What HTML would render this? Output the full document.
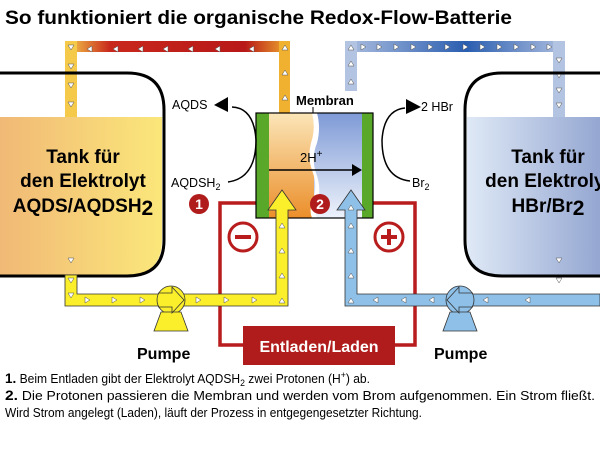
<!DOCTYPE html>
<html><head><meta charset="utf-8"><style>
html,body{margin:0;padding:0;background:#fff;width:600px;height:450px;overflow:hidden}
svg{display:block;font-family:"Liberation Sans",sans-serif}
</style></head><body>
<svg width="600" height="450" viewBox="0 0 600 450" xmlns="http://www.w3.org/2000/svg">
<defs>
<linearGradient id="tl" x1="0" x2="1"><stop offset="0" stop-color="#f0b676"/><stop offset="1" stop-color="#fbe77a"/></linearGradient>
<linearGradient id="tr" x1="0" x2="1"><stop offset="0" stop-color="#dfe9f6"/><stop offset="1" stop-color="#8fa2cf"/></linearGradient>
<linearGradient id="rp" x1="0" x2="1"><stop offset="0" stop-color="#f7d24c"/><stop offset="0.2" stop-color="#c8281c"/><stop offset="0.8" stop-color="#b81818"/><stop offset="1" stop-color="#f0b030"/></linearGradient>
<linearGradient id="bp" x1="0" x2="1"><stop offset="0" stop-color="#aebfe0"/><stop offset="0.55" stop-color="#2a5eb0"/><stop offset="1" stop-color="#aebfe0"/></linearGradient>
<linearGradient id="co" x1="0" x2="0" y1="0" y2="1"><stop offset="0" stop-color="#fbe6b8"/><stop offset="1" stop-color="#eb8e2a"/></linearGradient>
<linearGradient id="cb" x1="0" x2="0" y1="0" y2="1"><stop offset="0" stop-color="#7e9ad6"/><stop offset="1" stop-color="#eef3fb"/></linearGradient>
</defs>

<text x="5" y="24" font-size="19.5" font-weight="bold" textLength="507" lengthAdjust="spacingAndGlyphs">So funktioniert die organische Redox-Flow-Batterie</text>

<rect x="65" y="41" width="225" height="11" fill="url(#rp)"/>
<rect x="65" y="41" width="12" height="76" fill="#f5c94a"/>
<rect x="279" y="41" width="11" height="72" fill="#f0b030"/>
<rect x="345" y="41" width="220" height="11" fill="url(#bp)"/>
<rect x="345" y="41" width="12" height="50" fill="#b3c4e2"/>
<rect x="553" y="41" width="12" height="76" fill="#b3c4e2"/>
<g fill="#fff" stroke="#555" stroke-width="0.5">
<path d="M68 45h6l-3 5z M68 64h6l-3 5z M68 83h6l-3 5z M68 102h6l-3 5z"/>
<path d="M92 46l-5 3 5 3z M118 46l-5 3 5 3z M143 46l-5 3 5 3z M168 46l-5 3 5 3z M193 46l-5 3 5 3z M220 46l-5 3 5 3z M254 46l-5 3 5 3z"/>
<path d="M282 50h6l-3 -5z M282 75h6l-3 -5z M282 100h6l-3 -5z"/>
<path d="M348 50h6l-3 -5z M348 66h6l-3 -5z M348 84h6l-3 -5z"/>
<path d="M361 44l5 3 -5 3z M377 44l5 3 -5 3z M394 44l5 3 -5 3z M411 44l5 3 -5 3z M428 44l5 3 -5 3z M445 44l5 3 -5 3z M463 44l5 3 -5 3z M480 44l5 3 -5 3z M497 44l5 3 -5 3z M514 44l5 3 -5 3z M531 44l5 3 -5 3z M547 44l5 3 -5 3z"/>
<path d="M556 58h6l-3 5z M556 73h6l-3 5z M556 88h6l-3 5z M556 103h6l-3 5z"/>
</g>

<path d="M-10 117 H162 V240 Q162 275 127 275 H-10 Z" fill="url(#tl)"/>
<path d="M-10 73 H127 Q164 73 164 110 V240 Q164 276 127 276 H-10" fill="none" stroke="#000" stroke-width="3"/>
<path d="M610 117 H467 V240 Q467 275 502 275 H610 Z" fill="url(#tr)"/>
<path d="M610 73 H502 Q465 73 465 110 V240 Q465 276 502 276 H610" fill="none" stroke="#000" stroke-width="3"/>
<g font-weight="bold" font-size="19" text-anchor="middle">
<text x="83" y="163">Tank für</text><text x="83" y="187">den Elektrolyt</text>
<text x="83" y="212">AQDS/AQDSH<tspan font-size="21" dy="3">2</tspan></text>
<text x="548" y="163">Tank für</text><text x="548" y="187">den Elektrolyt</text>
<text x="548" y="212">HBr/Br<tspan font-size="21" dy="3">2</tspan></text>
</g>

<g fill="none" stroke="#b81c1c" stroke-width="3.5">
<path d="M257 203 H220 V345 H245"/>
<path d="M372 203 H415 V345 H392"/>
</g>
<rect x="243" y="326" width="152" height="39" fill="#b01c1c"/>
<text x="319" y="352" fill="#fff" font-size="16" font-weight="bold" text-anchor="middle">Entladen/Laden</text>
<g fill="none" stroke="#b81c1c" stroke-width="3"><circle cx="243" cy="237" r="14"/><circle cx="389" cy="237" r="14"/></g>
<rect x="235" y="235" width="16" height="4" fill="#b81c1c"/>
<rect x="381" y="235" width="16" height="4" fill="#b81c1c"/><rect x="387" y="229" width="4" height="16" fill="#b81c1c"/>

<rect x="269" y="113" width="45" height="105" fill="url(#co)"/>
<rect x="314" y="113" width="48" height="105" fill="url(#cb)"/>
<path d="M312 113 q4 15 -1 30 q-4 15 2 30 q5 15 -1 30 q-3 8 0 15 h5 q-3 -7 0 -15 q5 -15 -1 -30 q-5 -15 1 -30 q4 -15 0 -30z" fill="#fff"/>
<rect x="256" y="113" width="13" height="105" fill="#5aa82a"/>
<rect x="362" y="113" width="11" height="105" fill="#5aa82a"/>
<rect x="256" y="113" width="117" height="105" fill="none" stroke="#000" stroke-width="1.2"/>
<line x1="269" y1="170" x2="356" y2="170" stroke="#000" stroke-width="1.5"/>
<path d="M362 170 l-10 -6 v12z"/>
<text x="300" y="162" font-size="13">2H<tspan font-size="10" dy="-5">+</tspan></text>
<text x="296" y="105" font-size="13" font-weight="bold">Membran</text>
<line x1="313" y1="107" x2="313" y2="113" stroke="#000"/>

<g stroke="#333" stroke-width="0.8">
<path d="M65 275 V306 H288 V210 H296 L282 190 L268 210 H276 V294 H77 V275Z" fill="#fbee2a"/>
<path d="M600 294 H357 V210 H365 L351 190 L337 210 H345 V306 H600Z" fill="#8ec0e8"/>
<circle cx="171" cy="300" r="14" fill="#fbee2a"/>
<path d="M161 312 L154 331 H188 L181 312Z" fill="#fbee2a"/>
<path d="M158 293 H172 V287 L184 300 L172 313 V307 H158" fill="none"/>
<circle cx="460" cy="300" r="14" fill="#8ec0e8"/>
<path d="M450 312 L443 331 H477 L470 312Z" fill="#8ec0e8"/>
<path d="M473 293 H459 V287 L447 300 L459 313 V307 H473" fill="none"/>
</g>
<g fill="#fff" stroke="#555" stroke-width="0.5">
<path d="M68 258h6l-3 5z M68 278h6l-3 5z M68 293h6l-3 5z"/>
<path d="M85 297l5 3 -5 3z M112 297l5 3 -5 3z M140 297l5 3 -5 3z M196 297l5 3 -5 3z M224 297l5 3 -5 3z M252 297l5 3 -5 3z"/>
<path d="M279 303h6l-3 -5z M279 278h6l-3 -5z M279 253h6l-3 -5z M279 228h6l-3 -5z"/>
<path d="M348 303h6l-3 -5z M348 278h6l-3 -5z M348 253h6l-3 -5z M348 228h6l-3 -5z M348 210h6l-3 -5z"/>
<path d="M378 297l-5 3 5 3z M406 297l-5 3 5 3z M434 297l-5 3 5 3z M488 297l-5 3 5 3z M530 297l-5 3 5 3z"/>
<path d="M556 258h6l-3 5z M556 278h6l-3 5z"/>
</g>
<g font-size="16" font-weight="bold"><text x="137" y="359">Pumpe</text><text x="434" y="359">Pumpe</text></g>

<g font-size="12.5">
<text x="172" y="109">AQDS</text>
<text x="171" y="187">AQDSH<tspan font-size="9" dy="3">2</tspan></text>
<text x="421" y="111">2 HBr</text>
<text x="412" y="187">Br<tspan font-size="9" dy="3">2</tspan></text>
</g>
<path d="M228 182 Q256 178 256 140 Q254 108 232 107" fill="none" stroke="#000" stroke-width="1.5"/>
<path d="M214 105 l14 -8 v15z"/>
<path d="M410 181 Q382 178 382 140 Q384 110 405 108" fill="none" stroke="#000" stroke-width="1.5"/>
<path d="M421 107 l-15 -8 v15z"/>

<g fill="#b01c1c"><circle cx="199" cy="204" r="10"/><circle cx="320" cy="204" r="10"/></g>
<g fill="#fff" font-size="14" font-weight="bold" text-anchor="middle"><text x="199" y="209">1</text><text x="320" y="209">2</text></g>

<g font-size="12.5">
<text x="5" y="383" textLength="365" lengthAdjust="spacingAndGlyphs"><tspan font-weight="bold" font-size="14">1.</tspan> Beim Entladen gibt der Elektrolyt AQDSH<tspan font-size="9" dy="3">2</tspan><tspan dy="-3"> zwei Protonen (H</tspan><tspan font-size="9" dy="-5">+</tspan><tspan dy="5">) ab.</tspan></text>
<text x="5" y="400" textLength="590" lengthAdjust="spacingAndGlyphs"><tspan font-weight="bold" font-size="14">2.</tspan> Die Protonen passieren die Membran und werden vom Brom aufgenommen. Ein Strom fließt.</text>
<text x="5" y="417" textLength="417" lengthAdjust="spacingAndGlyphs">Wird Strom angelegt (Laden), läuft der Prozess in entgegengesetzter Richtung.</text>
</g>
</svg>
</body></html>
